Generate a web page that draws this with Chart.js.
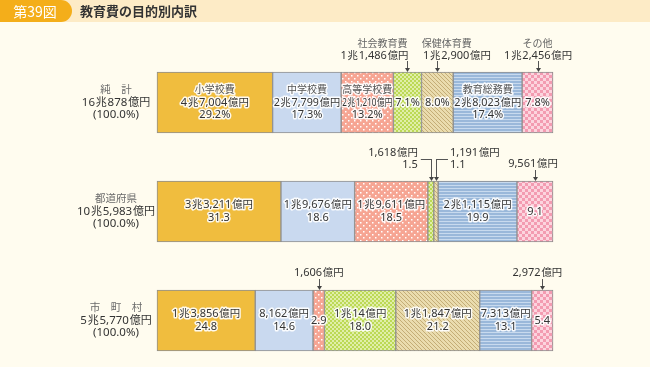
<!DOCTYPE html>
<html>
<head>
<meta charset="utf-8">
<script src="https://cdn.jsdelivr.net/npm/chart.js@4"></script>
<style>
  html, body { margin: 0; padding: 0; background: #fffcef; }
  #wrap { width: 650px; height: 367px; }
</style>
</head>
<body>
<div id="wrap"><canvas id="chart" width="650" height="367"></canvas></div>
<script>
var rows = ['純　計', '都道府県', '市　町　村'];
var rowTotals = ['16兆878億円', '10兆5,983億円', '5兆5,770億円'];
var items = ['小学校費', '中学校費', '高等学校費', '社会教育費', '保健体育費', '教育総務費', 'その他'];

// amounts per item, one entry per row
var amounts = [
  ['4兆7,004億円', '3兆3,211億円', '1兆3,856億円'],
  ['2兆7,799億円', '1兆9,676億円', '8,162億円'],
  ['2兆1,210億円', '1兆9,611億円', '1,606億円'],
  ['1兆1,486億円', '1,618億円', '1兆14億円'],
  ['1兆2,900億円', '1,191億円', '1兆1,847億円'],
  ['2兆8,023億円', '2兆1,115億円', '7,313億円'],
  ['1兆2,456億円', '9,561億円', '2,972億円']
];
// shares (%) per item, one entry per row
var shares = [
  [29.2, 31.3, 24.8],
  [17.3, 18.6, 14.6],
  [13.2, 18.5, 2.9],
  [7.1, 1.5, 18.0],
  [8.0, 1.1, 21.2],
  [17.4, 19.9, 13.1],
  [7.8, 9.1, 5.4]
];

// how each cell is labelled
var labelKind = [
  ['in3', 'in2', 'in2'],
  ['in3', 'in2', 'in2'],
  ['in3', 'in2', 'up'],
  ['up', 'elbowL', 'in2'],
  ['up', 'elbowR', 'in2'],
  ['in3', 'in2', 'in2'],
  ['up', 'up', 'up']
];
// horizontal nudges of callout text [name, amount]
var upNudge = { '3,0': [-25, -33], '4,0': [9.5, 19.5], '6,0': [0, 0.5], '6,1': [0, -2], '2,2': [0, 0], '6,2': [0, -5] };

function makePattern(size, draw) {
  var c = document.createElement('canvas');
  c.width = size; c.height = size;
  var g = c.getContext('2d');
  draw(g, size);
  return document.getElementById('chart').getContext('2d').createPattern(c, 'repeat');
}

var fills = [
  '#f0bd3e',
  '#c9d9ef',
  makePattern(6, function (g, s) {
    g.fillStyle = '#f6a593'; g.fillRect(0, 0, s, s);
    g.fillStyle = '#ffffff';
    g.fillRect(0, 0, 1.5, 1.5); g.fillRect(3, 3, 1.5, 1.5);
  }),
  makePattern(4, function (g, s) {
    g.fillStyle = '#bcd955'; g.fillRect(0, 0, s, s);
    g.fillStyle = '#e0eea8';
    g.fillRect(0, 0, 2, 2); g.fillRect(2, 2, 2, 2);
  }),
  makePattern(4, function (g, s) {
    g.fillStyle = '#eadcae'; g.fillRect(0, 0, s, s);
    g.fillStyle = '#c4ad76';
    for (var i = 0; i < s; i++) g.fillRect(i, i, 1, 1);
  }),
  makePattern(3, function (g, s) {
    g.fillStyle = '#c8daee'; g.fillRect(0, 0, s, s);
    g.fillStyle = '#9ab8da'; g.fillRect(0, 0, s, 2);
  }),
  makePattern(6, function (g, s) {
    g.fillStyle = '#fcd4de'; g.fillRect(0, 0, s, s);
    g.fillStyle = '#f39bb1';
    g.fillRect(0, 0, 3, 3); g.fillRect(3, 3, 3, 3);
  })
];

var CJK = '"Noto Sans CJK JP", sans-serif';
var LAT = '"Noto Sans", "DejaVu Sans", sans-serif';
var cjkRe = /[\u3000-\u9fff\uff00-\uffef]+|[^\u3000-\u9fff\uff00-\uffef]+/g;

// draw text with CJK glyphs a touch smaller than digits, like the print original
function rich(ctx, text, x, y, o) {
  var parts = text.match(cjkRe);
  var cs = o.cjk || 10.4, ns = o.num || 11, gap = o.gap === undefined ? 0.8 : o.gap;
  var ws = parts.map(function (p) {
    var isC = /[\u3000-\u9fff\uff00-\uffef]/.test(p);
    ctx.font = (isC ? cs + 'px ' + CJK : ns + 'px ' + LAT);
    return { t: p, f: ctx.font, c: isC, w: ctx.measureText(p).width };
  });
  var total = ws.reduce(function (a, b) { return a + b.w; }, 0) + gap * (ws.length - 1);
  var sc = o.maxW && total > o.maxW ? o.maxW / total : 1;
  var w = total * sc;
  var sx = o.align === 'left' ? x : (o.align === 'right' ? x - w : x - w / 2);
  ctx.save();
  ctx.translate(sx, y);
  ctx.scale(sc, 1);
  ctx.textAlign = 'left';
  ctx.textBaseline = 'middle';
  var cx = 0;
  ws.forEach(function (p) {
    ctx.font = p.f;
    var dy = p.c ? -0.5 : 0;
    if (o.halo) {
      ctx.lineJoin = 'round';
      ctx.lineWidth = 3;
      ctx.strokeStyle = 'rgba(255,255,255,0.9)';
      ctx.strokeText(p.t, cx, dy);
    }
    ctx.fillStyle = o.color || '#333';
    ctx.fillText(p.t, cx, dy);
    cx += p.w + gap;
  });
  ctx.restore();
}

function arrowDown(ctx, x, y0, y1) {
  ctx.strokeStyle = '#555';
  ctx.lineWidth = 1;
  ctx.beginPath(); ctx.moveTo(x, y0); ctx.lineTo(x, y1 - 3); ctx.stroke();
  ctx.fillStyle = '#444';
  ctx.beginPath(); ctx.moveTo(x - 2.5, y1 - 4); ctx.lineTo(x + 2.5, y1 - 4); ctx.lineTo(x, y1); ctx.closePath(); ctx.fill();
}

var pageDeco = {
  id: 'pageDeco',
  beforeDraw: function (chart) {
    var ctx = chart.ctx;
    ctx.save();
    ctx.fillStyle = '#fffcef';
    ctx.fillRect(0, 0, 650, 367);
    ctx.fillStyle = '#fdebc6';
    ctx.fillRect(60, 0, 590, 22);
    ctx.beginPath(); ctx.roundRect(0, 0, 72, 22, [0, 11, 11, 0]);
    ctx.fillStyle = '#f4ae1a'; ctx.fill();
    ctx.textBaseline = 'middle';
    ctx.textAlign = 'center';
    ctx.font = '14px ' + CJK;
    ctx.fillStyle = '#ffffff';
    ctx.fillText('第39図', 35, 11.5);
    ctx.textAlign = 'left';
    ctx.font = 'bold 13px ' + CJK;
    ctx.fillStyle = '#333';
    ctx.fillText('教育費の目的別内訳', 80, 11.5);
    ctx.restore();
  }
};

var labels = {
  id: 'labels',
  afterDatasetsDraw: function (chart) {
    var ctx = chart.ctx;
    ctx.save();

    // row headers
    rows.forEach(function (r, j) {
      var cy = chart.getDatasetMeta(0).data[j].y;
      rich(ctx, r, 116, cy - 12.5, { cjk: 10.5, color: '#6a6a6a' });
      rich(ctx, rowTotals[j], 116, cy, { cjk: 11, num: 11.5 });
      rich(ctx, '(100.0%)', 116, cy + 12.5, { num: 11.5 });
    });

    items.forEach(function (name, i) {
      var meta = chart.getDatasetMeta(i);
      meta.data.forEach(function (el, j) {
        var cx = (el.x + el.base) / 2;
        var cy = el.y;
        var top = cy - el.height / 2;
        var w = Math.abs(el.x - el.base) - 2;
        var pct = j === 0 ? shares[i][j].toFixed(1) + '%' : shares[i][j].toFixed(1);
        var kind = labelKind[i][j];
        if (kind === 'in3') {
          rich(ctx, name, cx, cy - 12.5, { cjk: 10, color: '#555', halo: true, maxW: w });
          rich(ctx, amounts[i][j], cx, cy, { halo: true, maxW: w });
          rich(ctx, pct, cx, cy + 12.5, { halo: true, maxW: w });
        } else if (kind === 'in2') {
          rich(ctx, amounts[i][j], cx, cy - 6.5, { halo: true, maxW: w });
          rich(ctx, pct, cx, cy + 6.5, { halo: true, maxW: w });
        } else if (kind === 'up') {
          rich(ctx, pct, cx, cy, { halo: true });
          var nd = upNudge[i + ',' + j];
          if (j === 0) {
            rich(ctx, name, cx + nd[0], top - 28.5, { cjk: 10, color: '#666' });
            rich(ctx, amounts[i][j], cx + nd[1], top - 16.5, {});
          } else {
            rich(ctx, amounts[i][j], cx + nd[1], top - 17, {});
          }
          arrowDown(ctx, Math.round(cx) + 0.5, top - 11, top);
        } else if (kind === 'elbowL' || kind === 'elbowR') {
          var left = kind === 'elbowL';
          var tx = left ? cx - 13 : cx + 14;
          var al = left ? 'right' : 'left';
          rich(ctx, amounts[i][j], tx, top - 28, { align: al });
          rich(ctx, pct, tx, top - 16, { align: al });
          ctx.strokeStyle = '#555';
          ctx.lineWidth = 1;
          ctx.beginPath();
          ctx.moveTo(left ? cx - 10 : cx + 12, top - 22 + 0.5);
          ctx.lineTo(Math.round(cx) + 0.5, top - 22 + 0.5);
          ctx.stroke();
          arrowDown(ctx, Math.round(cx) + 0.5, top - 22, top);
        }
      });
    });
    ctx.restore();
  }
};

var datasets = items.map(function (name, i) {
  return {
    label: name,
    data: shares[i],
    backgroundColor: fills[i],
    borderColor: '#8f8f8f',
    borderWidth: 1,
    borderSkipped: false,
    barThickness: 61,
    clip: false
  };
});

new Chart(document.getElementById('chart').getContext('2d'), {
  type: 'bar',
  data: { labels: rows, datasets: datasets },
  options: {
    indexAxis: 'y',
    responsive: false,
    animation: false,
    events: [],
    layout: { padding: { left: 157, right: 97, top: 102.5, bottom: 46.5 } },
    plugins: { legend: { display: false }, tooltip: { enabled: false } },
    scales: {
      x: { type: 'linear', min: 0, max: 100, stacked: true, display: false },
      y: { type: 'category', stacked: true, display: false, offset: false }
    }
  },
  plugins: [pageDeco, labels]
});
</script>
</body>
</html>
